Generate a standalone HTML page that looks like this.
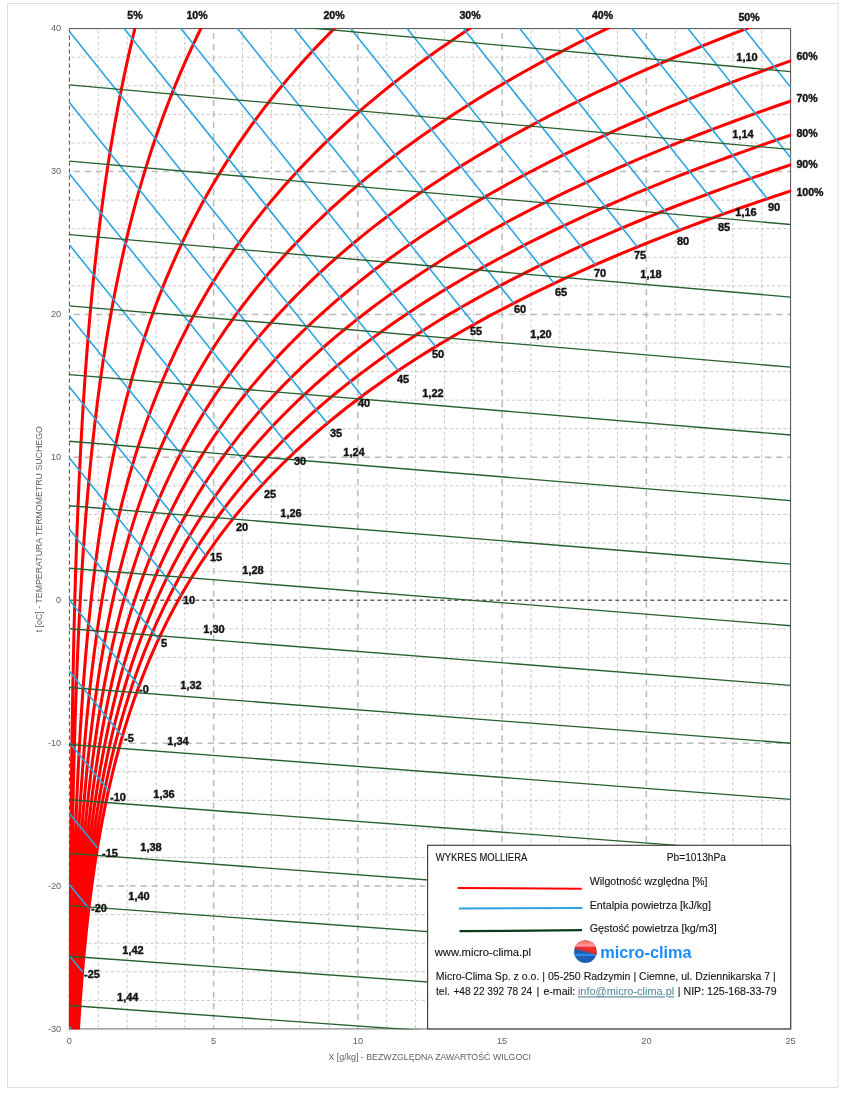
<!DOCTYPE html>
<html lang="pl"><head><meta charset="utf-8"><title>Wykres Molliera</title>
<style>html,body{margin:0;padding:0;background:#fff}body{width:850px;height:1100px;overflow:hidden}svg{display:block}</style>
</head><body>
<svg width="850" height="1100" viewBox="0 0 850 1100">
<rect x="0" y="0" width="850" height="1100" fill="#fff"/>
<rect x="7.5" y="3.5" width="830.5" height="1084" fill="none" stroke="#dde0e0" stroke-width="1"/>
<defs><clipPath id="cp"><rect x="68.80000000000001" y="28.0" width="722.4000000000001" height="1001.4"/></clipPath></defs>
<g fill="none">
<path d="M98.25 28.6V1029.0M127.10 28.6V1029.0M155.94 28.6V1029.0M184.79 28.6V1029.0M242.49 28.6V1029.0M271.34 28.6V1029.0M300.18 28.6V1029.0M329.03 28.6V1029.0M386.73 28.6V1029.0M415.58 28.6V1029.0M444.42 28.6V1029.0M473.27 28.6V1029.0M530.97 28.6V1029.0M559.82 28.6V1029.0M588.66 28.6V1029.0M617.51 28.6V1029.0M675.21 28.6V1029.0M704.06 28.6V1029.0M732.90 28.6V1029.0M761.75 28.6V1029.0M69.4 1000.42H790.6M69.4 971.83H790.6M69.4 943.25H790.6M69.4 914.67H790.6M69.4 857.50H790.6M69.4 828.92H790.6M69.4 800.34H790.6M69.4 771.75H790.6M69.4 714.59H790.6M69.4 686.01H790.6M69.4 657.42H790.6M69.4 628.84H790.6M69.4 571.67H790.6M69.4 543.09H790.6M69.4 514.51H790.6M69.4 485.93H790.6M69.4 428.76H790.6M69.4 400.18H790.6M69.4 371.59H790.6M69.4 343.01H790.6M69.4 285.85H790.6M69.4 257.26H790.6M69.4 228.68H790.6M69.4 200.10H790.6M69.4 142.93H790.6M69.4 114.35H790.6M69.4 85.77H790.6M69.4 57.18H790.6" stroke="#bebebe" stroke-width="0.85" stroke-dasharray="3.2 2.45" stroke-dashoffset="3.65"/>
<path d="M213.64 28.6V1029.0M357.88 28.6V1029.0M502.12 28.6V1029.0M646.36 28.6V1029.0" stroke="#bababa" stroke-width="1.5" stroke-dasharray="6.2 4.95" stroke-dashoffset="6.85"/>
<path d="M69.4 171.51H790.6M69.4 314.43H790.6M69.4 457.34H790.6M69.4 743.17H790.6M69.4 886.09H790.6" stroke="#bababa" stroke-width="1.5" stroke-dasharray="6.2 4.95" stroke-dashoffset="6.85"/>
<path d="M69.4 600.26H790.6" stroke="#646464" stroke-width="1.35" stroke-dasharray="3.9 3.1"/>
</g>
<path d="M69.4 28.6V1029.0" fill="none" stroke="#555" stroke-width="1.05" stroke-dasharray="4.2 2.8"/>
<path d="M69.4 28.6H790.6V1029.0" fill="none" stroke="#505050" stroke-width="1"/>
<path d="M69.4 1028.8H790.6" fill="none" stroke="#8a8a8a" stroke-width="1.3"/>
<g clip-path="url(#cp)" fill="none" stroke-linecap="butt">
<path d="M69.81 1043.29L69.83 1036.15L69.85 1029.00L69.88 1021.85L69.90 1014.71L69.92 1007.56L69.95 1000.42L69.97 993.27L70.00 986.13L70.03 978.98L70.06 971.83L70.09 964.69L70.12 957.54L70.15 950.40L70.19 943.25L70.22 936.11L70.26 928.96L70.30 921.81L70.34 914.67L70.38 907.52L70.42 900.38L70.47 893.23L70.52 886.09L70.56 878.94L70.62 871.79L70.67 864.65L70.72 857.50L70.78 850.36L70.84 843.21L70.90 836.07L70.96 828.92L71.03 821.77L71.10 814.63L71.17 807.48L71.24 800.34L71.32 793.19L71.40 786.05L71.48 778.90L71.57 771.75L71.66 764.61L71.75 757.46L71.84 750.32L71.94 743.17L72.04 736.03L72.15 728.88L72.26 721.73L72.37 714.59L72.49 707.44L72.61 700.30L72.74 693.15L72.87 686.01L73.00 678.86L73.14 671.71L73.28 664.57L73.43 657.42L73.59 650.28L73.74 643.13L73.91 635.99L74.08 628.84L74.25 621.69L74.43 614.55L74.62 607.40L74.81 600.26L75.01 593.11L75.22 585.97L75.43 578.82L75.65 571.67L75.88 564.53L76.11 557.38L76.35 550.24L76.60 543.09L76.86 535.95L77.12 528.80L77.40 521.65L77.68 514.51L77.97 507.36L78.27 500.22L78.58 493.07L78.89 485.93L79.22 478.78L79.56 471.63L79.91 464.49L80.27 457.34L80.63 450.20L81.01 443.05L81.40 435.91L81.81 428.76L82.22 421.61L82.65 414.47L83.09 407.32L83.54 400.18L84.01 393.03L84.48 385.89L84.98 378.74L85.48 371.59L86.00 364.45L86.54 357.30L87.09 350.16L87.66 343.01L88.24 335.87L88.84 328.72L89.45 321.57L90.08 314.43L90.73 307.28L91.40 300.14L92.08 292.99L92.79 285.85L93.51 278.70L94.26 271.55L95.02 264.41L95.80 257.26L96.61 250.12L97.43 242.97L98.28 235.83L99.15 228.68L100.04 221.53L100.96 214.39L101.90 207.24L102.86 200.10L103.85 192.95L104.87 185.81L105.91 178.66L106.97 171.51L108.07 164.37L109.19 157.22L110.34 150.08L111.52 142.93L112.73 135.79L113.97 128.64L115.24 121.49L116.55 114.35L117.88 107.20L119.25 100.06L120.65 92.91L122.09 85.77L123.56 78.62L125.06 71.47L126.60 64.33L128.18 57.18L129.80 50.04L131.46 42.89L133.15 35.75L134.89 28.60L136.67 21.45L138.48 14.31M70.22 1043.29L70.26 1036.15L70.31 1029.00L70.35 1021.85L70.40 1014.71L70.44 1007.56L70.49 1000.42L70.54 993.27L70.60 986.13L70.65 978.98L70.71 971.83L70.77 964.69L70.84 957.54L70.90 950.40L70.97 943.25L71.04 936.11L71.12 928.96L71.20 921.81L71.28 914.67L71.36 907.52L71.45 900.38L71.54 893.23L71.63 886.09L71.73 878.94L71.83 871.79L71.94 864.65L72.05 857.50L72.16 850.36L72.28 843.21L72.40 836.07L72.53 828.92L72.66 821.77L72.80 814.63L72.94 807.48L73.09 800.34L73.24 793.19L73.40 786.05L73.57 778.90L73.74 771.75L73.91 764.61L74.10 757.46L74.29 750.32L74.49 743.17L74.69 736.03L74.90 728.88L75.12 721.73L75.35 714.59L75.58 707.44L75.82 700.30L76.07 693.15L76.33 686.01L76.60 678.86L76.88 671.71L77.17 664.57L77.47 657.42L77.77 650.28L78.09 643.13L78.42 635.99L78.76 628.84L79.11 621.69L79.47 614.55L79.85 607.40L80.23 600.26L80.63 593.11L81.04 585.97L81.47 578.82L81.91 571.67L82.36 564.53L82.83 557.38L83.31 550.24L83.81 543.09L84.32 535.95L84.85 528.80L85.40 521.65L85.96 514.51L86.55 507.36L87.14 500.22L87.76 493.07L88.40 485.93L89.05 478.78L89.73 471.63L90.43 464.49L91.14 457.34L91.88 450.20L92.64 443.05L93.43 435.91L94.23 428.76L95.06 421.61L95.92 414.47L96.80 407.32L97.70 400.18L98.63 393.03L99.59 385.89L100.58 378.74L101.59 371.59L102.64 364.45L103.71 357.30L104.81 350.16L105.95 343.01L107.11 335.87L108.31 328.72L109.55 321.57L110.81 314.43L112.11 307.28L113.45 300.14L114.83 292.99L116.24 285.85L117.69 278.70L119.18 271.55L120.71 264.41L122.28 257.26L123.89 250.12L125.55 242.97L127.25 235.83L129.00 228.68L130.79 221.53L132.63 214.39L134.51 207.24L136.45 200.10L138.44 192.95L140.47 185.81L142.56 178.66L144.71 171.51L146.91 164.37L149.16 157.22L151.47 150.08L153.85 142.93L156.28 135.79L158.77 128.64L161.32 121.49L163.94 114.35L166.63 107.20L169.38 100.06L172.19 92.91L175.08 85.77L178.04 78.62L181.07 71.47L184.17 64.33L187.35 57.18L190.61 50.04L193.95 42.89L197.36 35.75L200.86 28.60L204.44 21.45L208.10 14.31M71.05 1043.29L71.13 1036.15L71.21 1029.00L71.30 1021.85L71.39 1014.71L71.49 1007.56L71.59 1000.42L71.69 993.27L71.80 986.13L71.91 978.98L72.03 971.83L72.15 964.69L72.27 957.54L72.41 950.40L72.54 943.25L72.69 936.11L72.84 928.96L72.99 921.81L73.15 914.67L73.32 907.52L73.49 900.38L73.68 893.23L73.86 886.09L74.06 878.94L74.26 871.79L74.47 864.65L74.69 857.50L74.92 850.36L75.16 843.21L75.40 836.07L75.66 828.92L75.92 821.77L76.20 814.63L76.49 807.48L76.78 800.34L77.09 793.19L77.41 786.05L77.74 778.90L78.08 771.75L78.43 764.61L78.80 757.46L79.18 750.32L79.57 743.17L79.98 736.03L80.41 728.88L80.84 721.73L81.30 714.59L81.77 707.44L82.25 700.30L82.75 693.15L83.27 686.01L83.81 678.86L84.37 671.71L84.94 664.57L85.54 657.42L86.15 650.28L86.79 643.13L87.45 635.99L88.13 628.84L88.83 621.69L89.56 614.55L90.30 607.40L91.08 600.26L91.88 593.11L92.70 585.97L93.56 578.82L94.44 571.67L95.34 564.53L96.28 557.38L97.25 550.24L98.25 543.09L99.27 535.95L100.34 528.80L101.43 521.65L102.56 514.51L103.72 507.36L104.92 500.22L106.16 493.07L107.44 485.93L108.75 478.78L110.11 471.63L111.50 464.49L112.94 457.34L114.42 450.20L115.95 443.05L117.52 435.91L119.13 428.76L120.80 421.61L122.51 414.47L124.28 407.32L126.09 400.18L127.96 393.03L129.89 385.89L131.87 378.74L133.90 371.59L136.00 364.45L138.15 357.30L140.37 350.16L142.65 343.01L144.99 335.87L147.40 328.72L149.87 321.57L152.42 314.43L155.03 307.28L157.72 300.14L160.48 292.99L163.32 285.85L166.24 278.70L169.24 271.55L172.31 264.41L175.47 257.26L178.72 250.12L182.05 242.97L185.47 235.83L188.99 228.68L192.60 221.53L196.30 214.39L200.10 207.24L204.00 200.10L208.00 192.95L212.11 185.81L216.33 178.66L220.65 171.51L225.09 164.37L229.64 157.22L234.30 150.08L239.09 142.93L244.00 135.79L249.03 128.64L254.19 121.49L259.48 114.35L264.91 107.20L270.47 100.06L276.17 92.91L282.01 85.77L288.00 78.62L294.14 71.47L300.43 64.33L306.87 57.18L313.47 50.04L320.23 42.89L327.16 35.75L334.25 28.60L341.52 21.45L348.97 14.31M71.87 1043.29L71.99 1036.15L72.12 1029.00L72.25 1021.85L72.39 1014.71L72.53 1007.56L72.68 1000.42L72.83 993.27L72.99 986.13L73.16 978.98L73.34 971.83L73.52 964.69L73.71 957.54L73.91 950.40L74.12 943.25L74.33 936.11L74.55 928.96L74.79 921.81L75.03 914.67L75.28 907.52L75.54 900.38L75.81 893.23L76.10 886.09L76.39 878.94L76.70 871.79L77.01 864.65L77.34 857.50L77.68 850.36L78.04 843.21L78.41 836.07L78.79 828.92L79.19 821.77L79.60 814.63L80.03 807.48L80.47 800.34L80.93 793.19L81.41 786.05L81.91 778.90L82.42 771.75L82.95 764.61L83.50 757.46L84.07 750.32L84.67 743.17L85.28 736.03L85.91 728.88L86.57 721.73L87.25 714.59L87.96 707.44L88.68 700.30L89.44 693.15L90.22 686.01L91.03 678.86L91.86 671.71L92.73 664.57L93.62 657.42L94.54 650.28L95.50 643.13L96.49 635.99L97.51 628.84L98.56 621.69L99.65 614.55L100.78 607.40L101.94 600.26L103.14 593.11L104.38 585.97L105.66 578.82L106.98 571.67L108.34 564.53L109.75 557.38L111.20 550.24L112.70 543.09L114.25 535.95L115.84 528.80L117.49 521.65L119.19 514.51L120.94 507.36L122.74 500.22L124.60 493.07L126.52 485.93L128.49 478.78L130.53 471.63L132.63 464.49L134.79 457.34L137.01 450.20L139.31 443.05L141.67 435.91L144.10 428.76L146.61 421.61L149.19 414.47L151.84 407.32L154.58 400.18L157.39 393.03L160.28 385.89L163.26 378.74L166.33 371.59L169.48 364.45L172.72 357.30L176.06 350.16L179.49 343.01L183.02 335.87L186.65 328.72L190.38 321.57L194.22 314.43L198.16 307.28L202.21 300.14L206.37 292.99L210.65 285.85L215.05 278.70L219.57 271.55L224.21 264.41L228.98 257.26L233.88 250.12L238.91 242.97L244.08 235.83L249.38 228.68L254.83 221.53L260.42 214.39L266.17 207.24L272.06 200.10L278.11 192.95L284.32 185.81L290.69 178.66L297.23 171.51L303.95 164.37L310.83 157.22L317.90 150.08L325.14 142.93L332.58 135.79L340.20 128.64L348.02 121.49L356.05 114.35L364.27 107.20L372.71 100.06L381.35 92.91L390.22 85.77L399.31 78.62L408.63 71.47L418.18 64.33L427.97 57.18L438.01 50.04L448.29 42.89L458.84 35.75L469.64 28.60L480.70 21.45L492.04 14.31M72.70 1043.29L72.86 1036.15L73.03 1029.00L73.20 1021.85L73.38 1014.71L73.57 1007.56L73.77 1000.42L73.98 993.27L74.19 986.13L74.42 978.98L74.65 971.83L74.90 964.69L75.15 957.54L75.41 950.40L75.69 943.25L75.97 936.11L76.27 928.96L76.58 921.81L76.91 914.67L77.24 907.52L77.59 900.38L77.95 893.23L78.33 886.09L78.72 878.94L79.13 871.79L79.55 864.65L79.99 857.50L80.45 850.36L80.92 843.21L81.41 836.07L81.92 828.92L82.45 821.77L83.00 814.63L83.58 807.48L84.17 800.34L84.78 793.19L85.42 786.05L86.08 778.90L86.76 771.75L87.47 764.61L88.21 757.46L88.97 750.32L89.76 743.17L90.58 736.03L91.42 728.88L92.30 721.73L93.21 714.59L94.15 707.44L95.12 700.30L96.13 693.15L97.17 686.01L98.25 678.86L99.36 671.71L100.52 664.57L101.71 657.42L102.94 650.28L104.22 643.13L105.53 635.99L106.90 628.84L108.30 621.69L109.76 614.55L111.26 607.40L112.81 600.26L114.41 593.11L116.07 585.97L117.78 578.82L119.54 571.67L121.36 564.53L123.24 557.38L125.18 550.24L127.18 543.09L129.25 535.95L131.38 528.80L133.58 521.65L135.84 514.51L138.18 507.36L140.59 500.22L143.07 493.07L145.64 485.93L148.28 478.78L151.00 471.63L153.80 464.49L156.69 457.34L159.67 450.20L162.73 443.05L165.89 435.91L169.14 428.76L172.49 421.61L175.94 414.47L179.49 407.32L183.15 400.18L186.91 393.03L190.78 385.89L194.77 378.74L198.87 371.59L203.09 364.45L207.43 357.30L211.90 350.16L216.49 343.01L221.22 335.87L226.07 328.72L231.07 321.57L236.21 314.43L241.49 307.28L246.92 300.14L252.50 292.99L258.23 285.85L264.13 278.70L270.19 271.55L276.41 264.41L282.81 257.26L289.38 250.12L296.13 242.97L303.06 235.83L310.18 228.68L317.50 221.53L325.01 214.39L332.72 207.24L340.64 200.10L348.76 192.95L357.11 185.81L365.68 178.66L374.47 171.51L383.50 164.37L392.76 157.22L402.27 150.08L412.02 142.93L422.03 135.79L432.30 128.64L442.83 121.49L453.64 114.35L464.73 107.20L476.10 100.06L487.76 92.91L499.73 85.77L511.99 78.62L524.58 71.47L537.48 64.33L550.71 57.18L564.27 50.04L578.17 42.89L592.43 35.75L607.05 28.60L622.03 21.45L637.38 14.31M73.52 1043.29L73.72 1036.15L73.93 1029.00L74.15 1021.85L74.38 1014.71L74.62 1007.56L74.86 1000.42L75.12 993.27L75.39 986.13L75.67 978.98L75.97 971.83L76.27 964.69L76.59 957.54L76.92 950.40L77.26 943.25L77.62 936.11L77.99 928.96L78.38 921.81L78.78 914.67L79.20 907.52L79.64 900.38L80.09 893.23L80.56 886.09L81.05 878.94L81.56 871.79L82.09 864.65L82.64 857.50L83.21 850.36L83.80 843.21L84.42 836.07L85.06 828.92L85.72 821.77L86.41 814.63L87.12 807.48L87.86 800.34L88.63 793.19L89.43 786.05L90.25 778.90L91.11 771.75L92.00 764.61L92.92 757.46L93.87 750.32L94.86 743.17L95.88 736.03L96.94 728.88L98.04 721.73L99.17 714.59L100.35 707.44L101.56 700.30L102.82 693.15L104.13 686.01L105.47 678.86L106.87 671.71L108.31 664.57L109.80 657.42L111.35 650.28L112.94 643.13L114.59 635.99L116.29 628.84L118.05 621.69L119.87 614.55L121.75 607.40L123.70 600.26L125.70 593.11L127.77 585.97L129.91 578.82L132.12 571.67L134.40 564.53L136.75 557.38L139.18 550.24L141.69 543.09L144.27 535.95L146.94 528.80L149.69 521.65L152.53 514.51L155.46 507.36L158.48 500.22L161.59 493.07L164.80 485.93L168.10 478.78L171.51 471.63L175.03 464.49L178.65 457.34L182.38 450.20L186.22 443.05L190.18 435.91L194.25 428.76L198.45 421.61L202.78 414.47L207.23 407.32L211.81 400.18L216.53 393.03L221.39 385.89L226.39 378.74L231.53 371.59L236.82 364.45L242.27 357.30L247.88 350.16L253.64 343.01L259.57 335.87L265.67 328.72L271.94 321.57L278.39 314.43L285.03 307.28L291.85 300.14L298.86 292.99L306.07 285.85L313.47 278.70L321.09 271.55L328.91 264.41L336.96 257.26L345.22 250.12L353.71 242.97L362.43 235.83L371.39 228.68L380.59 221.53L390.05 214.39L399.76 207.24L409.73 200.10L419.97 192.95L430.49 185.81L441.28 178.66L452.37 171.51L463.75 164.37L475.43 157.22L487.42 150.08L499.73 142.93L512.36 135.79L525.33 128.64L538.63 121.49L552.29 114.35L566.30 107.20L580.67 100.06L595.42 92.91L610.55 85.77L626.08 78.62L642.00 71.47L658.34 64.33L675.09 57.18L692.28 50.04L709.91 42.89L727.99 35.75L746.53 28.60L765.54 21.45L785.04 14.31M74.35 1043.29L74.59 1036.15L74.84 1029.00L75.10 1021.85L75.38 1014.71L75.66 1007.56L75.96 1000.42L76.27 993.27L76.59 986.13L76.93 978.98L77.28 971.83L77.64 964.69L78.03 957.54L78.42 950.40L78.83 943.25L79.26 936.11L79.71 928.96L80.18 921.81L80.66 914.67L81.16 907.52L81.69 900.38L82.23 893.23L82.80 886.09L83.39 878.94L84.00 871.79L84.63 864.65L85.29 857.50L85.98 850.36L86.69 843.21L87.43 836.07L88.19 828.92L88.99 821.77L89.82 814.63L90.67 807.48L91.56 800.34L92.48 793.19L93.44 786.05L94.43 778.90L95.46 771.75L96.52 764.61L97.63 757.46L98.77 750.32L99.96 743.17L101.19 736.03L102.46 728.88L103.77 721.73L105.14 714.59L106.55 707.44L108.01 700.30L109.52 693.15L111.09 686.01L112.71 678.86L114.38 671.71L116.11 664.57L117.91 657.42L119.76 650.28L121.67 643.13L123.65 635.99L125.70 628.84L127.82 621.69L130.00 614.55L132.26 607.40L134.59 600.26L137.00 593.11L139.49 585.97L142.06 578.82L144.72 571.67L147.46 564.53L150.28 557.38L153.20 550.24L156.21 543.09L159.32 535.95L162.53 528.80L165.84 521.65L169.25 514.51L172.77 507.36L176.40 500.22L180.14 493.07L184.00 485.93L187.98 478.78L192.07 471.63L196.30 464.49L200.65 457.34L205.14 450.20L209.76 443.05L214.53 435.91L219.43 428.76L224.49 421.61L229.69 414.47L235.05 407.32L240.56 400.18L246.25 393.03L252.09 385.89L258.11 378.74L264.31 371.59L270.69 364.45L277.25 357.30L284.00 350.16L290.94 343.01L298.09 335.87L305.44 328.72L313.00 321.57L320.78 314.43L328.78 307.28L337.00 300.14L345.46 292.99L354.15 285.85L363.09 278.70L372.28 271.55L381.72 264.41L391.43 257.26L401.40 250.12L411.65 242.97L422.19 235.83L433.01 228.68L444.13 221.53L455.56 214.39L467.30 207.24L479.35 200.10L491.73 192.95L504.45 185.81L517.52 178.66L530.93 171.51L544.70 164.37L558.85 157.22L573.37 150.08L588.28 142.93L603.59 135.79L619.31 128.64L635.44 121.49L652.00 114.35L669.00 107.20L686.44 100.06L704.35 92.91L722.72 85.77L741.58 78.62L760.93 71.47L780.79 64.33L801.17 57.18L822.08 50.04L843.54 42.89L865.55 35.75L888.13 28.60L911.31 21.45L935.08 14.31M75.17 1043.29L75.45 1036.15L75.75 1029.00L76.05 1021.85L76.37 1014.71L76.70 1007.56L77.05 1000.42L77.41 993.27L77.79 986.13L78.18 978.98L78.59 971.83L79.02 964.69L79.46 957.54L79.93 950.40L80.41 943.25L80.91 936.11L81.43 928.96L81.97 921.81L82.54 914.67L83.13 907.52L83.74 900.38L84.37 893.23L85.03 886.09L85.72 878.94L86.43 871.79L87.17 864.65L87.94 857.50L88.74 850.36L89.57 843.21L90.43 836.07L91.33 828.92L92.26 821.77L93.22 814.63L94.22 807.48L95.26 800.34L96.34 793.19L97.45 786.05L98.61 778.90L99.81 771.75L101.05 764.61L102.34 757.46L103.68 750.32L105.06 743.17L106.49 736.03L107.98 728.88L109.52 721.73L111.11 714.59L112.76 707.44L114.46 700.30L116.23 693.15L118.05 686.01L119.95 678.86L121.90 671.71L123.92 664.57L126.02 657.42L128.18 650.28L130.42 643.13L132.73 635.99L135.12 628.84L137.59 621.69L140.14 614.55L142.78 607.40L145.51 600.26L148.32 593.11L151.23 585.97L154.23 578.82L157.33 571.67L160.53 564.53L163.83 557.38L167.25 550.24L170.76 543.09L174.40 535.95L178.14 528.80L182.01 521.65L186.00 514.51L190.11 507.36L194.35 500.22L198.73 493.07L203.24 485.93L207.89 478.78L212.68 471.63L217.62 464.49L222.72 457.34L227.96 450.20L233.37 443.05L238.94 435.91L244.68 428.76L250.59 421.61L256.68 414.47L262.95 407.32L269.41 400.18L276.06 393.03L282.90 385.89L289.95 378.74L297.21 371.59L304.67 364.45L312.36 357.30L320.26 350.16L328.40 343.01L336.77 335.87L345.39 328.72L354.25 321.57L363.36 314.43L372.74 307.28L382.38 300.14L392.29 292.99L402.49 285.85L412.97 278.70L423.75 271.55L434.83 264.41L446.22 257.26L457.93 250.12L469.97 242.97L482.34 235.83L495.05 228.68L508.12 221.53L521.54 214.39L535.33 207.24L549.50 200.10L564.06 192.95L579.02 185.81L594.39 178.66L610.17 171.51L626.38 164.37L643.03 157.22L660.13 150.08L677.70 142.93L695.73 135.79L714.25 128.64L733.27 121.49L752.80 114.35L772.85 107.20L793.43 100.06L814.57 92.91L836.26 85.77L858.54 78.62L881.41 71.47L904.88 64.33L928.98 57.18L953.71 50.04L979.10 42.89L1005.16 35.75L1031.91 28.60L1059.36 21.45L1087.54 14.31M76.00 1043.29L76.32 1036.15L76.65 1029.00L77.00 1021.85L77.37 1014.71L77.75 1007.56L78.15 1000.42L78.56 993.27L78.99 986.13L79.44 978.98L79.91 971.83L80.39 964.69L80.90 957.54L81.43 950.40L81.98 943.25L82.55 936.11L83.15 928.96L83.77 921.81L84.42 914.67L85.09 907.52L85.79 900.38L86.51 893.23L87.27 886.09L88.05 878.94L88.87 871.79L89.71 864.65L90.59 857.50L91.51 850.36L92.46 843.21L93.44 836.07L94.47 828.92L95.53 821.77L96.63 814.63L97.77 807.48L98.96 800.34L100.19 793.19L101.47 786.05L102.79 778.90L104.16 771.75L105.58 764.61L107.06 757.46L108.58 750.32L110.17 743.17L111.81 736.03L113.50 728.88L115.26 721.73L117.08 714.59L118.97 707.44L120.92 700.30L122.94 693.15L125.03 686.01L127.19 678.86L129.43 671.71L131.74 664.57L134.13 657.42L136.61 650.28L139.17 643.13L141.81 635.99L144.55 628.84L147.37 621.69L150.29 614.55L153.31 607.40L156.43 600.26L159.65 593.11L162.98 585.97L166.41 578.82L169.96 571.67L173.63 564.53L177.41 557.38L181.31 550.24L185.34 543.09L189.50 535.95L193.79 528.80L198.21 521.65L202.78 514.51L207.49 507.36L212.35 500.22L217.36 493.07L222.52 485.93L227.85 478.78L233.34 471.63L239.00 464.49L244.83 457.34L250.85 450.20L257.04 443.05L263.43 435.91L270.00 428.76L276.78 421.61L283.76 414.47L290.95 407.32L298.35 400.18L305.97 393.03L313.82 385.89L321.90 378.74L330.22 371.59L338.79 364.45L347.60 357.30L356.68 350.16L366.01 343.01L375.62 335.87L385.51 328.72L395.68 321.57L406.14 314.43L416.91 307.28L427.98 300.14L439.37 292.99L451.09 285.85L463.13 278.70L475.52 271.55L488.26 264.41L501.35 257.26L514.82 250.12L528.66 242.97L542.89 235.83L557.51 228.68L572.55 221.53L588.00 214.39L603.88 207.24L620.20 200.10L636.97 192.95L654.20 185.81L671.90 178.66L690.09 171.51L708.79 164.37L727.99 157.22L747.71 150.08L767.98 142.93L788.79 135.79L810.18 128.64L832.14 121.49L854.70 114.35L877.87 107.20L901.66 100.06L926.10 92.91L951.20 85.77L976.97 78.62L1003.45 71.47L1030.63 64.33L1058.54 57.18L1087.21 50.04L1116.64 42.89L1146.87 35.75L1177.91 28.60L1209.78 21.45L1242.50 14.31M76.82 1043.29L77.18 1036.15L77.56 1029.00L77.95 1021.85L78.36 1014.71L78.79 1007.56L79.24 1000.42L79.70 993.27L80.19 986.13L80.69 978.98L81.22 971.83L81.77 964.69L82.34 957.54L82.94 950.40L83.56 943.25L84.20 936.11L84.87 928.96L85.57 921.81L86.30 914.67L87.05 907.52L87.84 900.38L88.65 893.23L89.50 886.09L90.39 878.94L91.30 871.79L92.26 864.65L93.25 857.50L94.28 850.36L95.34 843.21L96.45 836.07L97.60 828.92L98.80 821.77L100.04 814.63L101.33 807.48L102.66 800.34L104.05 793.19L105.48 786.05L106.97 778.90L108.52 771.75L110.12 764.61L111.78 757.46L113.49 750.32L115.28 743.17L117.12 736.03L119.03 728.88L121.01 721.73L123.06 714.59L125.18 707.44L127.38 700.30L129.65 693.15L132.00 686.01L134.44 678.86L136.96 671.71L139.56 664.57L142.26 657.42L145.04 650.28L147.93 643.13L150.91 635.99L153.98 628.84L157.17 621.69L160.46 614.55L163.86 607.40L167.37 600.26L171.00 593.11L174.74 585.97L178.61 578.82L182.61 571.67L186.74 564.53L191.00 557.38L195.40 550.24L199.94 543.09L204.62 535.95L209.46 528.80L214.45 521.65L219.59 514.51L224.90 507.36L230.38 500.22L236.02 493.07L241.85 485.93L247.85 478.78L254.04 471.63L260.43 464.49L267.00 457.34L273.79 450.20L280.77 443.05L287.97 435.91L295.39 428.76L303.04 421.61L310.91 414.47L319.02 407.32L327.38 400.18L335.98 393.03L344.84 385.89L353.97 378.74L363.36 371.59L373.03 364.45L382.99 357.30L393.23 350.16L403.78 343.01L414.64 335.87L425.81 328.72L437.30 321.57L449.13 314.43L461.30 307.28L473.82 300.14L486.69 292.99L499.94 285.85L513.57 278.70L527.58 271.55L541.99 264.41L556.81 257.26L572.05 250.12L587.72 242.97L603.84 235.83L620.40 228.68L637.43 221.53L654.94 214.39L672.93 207.24L691.43 200.10L710.45 192.95L729.99 185.81L750.07 178.66L770.71 171.51L791.93 164.37L813.73 157.22L836.13 150.08L859.14 142.93L882.79 135.79L907.10 128.64L932.06 121.49L957.72 114.35L984.08 107.20L1011.15 100.06L1038.97 92.91L1067.56 85.77L1096.92 78.62L1127.08 71.47L1158.07 64.33L1189.91 57.18L1222.61 50.04L1256.21 42.89L1290.72 35.75L1326.17 28.60L1362.60 21.45L1400.01 14.31M77.65 1043.29L78.05 1036.15L78.47 1029.00L78.91 1021.85L79.36 1014.71L79.84 1007.56L80.33 1000.42L80.85 993.27L81.39 986.13L81.95 978.98L82.54 971.83L83.14 964.69L83.78 957.54L84.44 950.40L85.13 943.25L85.85 936.11L86.59 928.96L87.37 921.81L88.18 914.67L89.01 907.52L89.89 900.38L90.80 893.23L91.74 886.09L92.72 878.94L93.74 871.79L94.80 864.65L95.90 857.50L97.04 850.36L98.23 843.21L99.46 836.07L100.74 828.92L102.07 821.77L103.45 814.63L104.88 807.48L106.37 800.34L107.90 793.19L109.50 786.05L111.16 778.90L112.87 771.75L114.65 764.61L116.50 757.46L118.41 750.32L120.39 743.17L122.44 736.03L124.56 728.88L126.76 721.73L129.04 714.59L131.40 707.44L133.84 700.30L136.37 693.15L138.99 686.01L141.69 678.86L144.50 671.71L147.39 664.57L150.39 657.42L153.49 650.28L156.69 643.13L160.01 635.99L163.43 628.84L166.97 621.69L170.63 614.55L174.41 607.40L178.32 600.26L182.36 593.11L186.53 585.97L190.83 578.82L195.28 571.67L199.87 564.53L204.61 557.38L209.51 550.24L214.56 543.09L219.77 535.95L225.15 528.80L230.71 521.65L236.43 514.51L242.34 507.36L248.44 500.22L254.73 493.07L261.21 485.93L267.90 478.78L274.79 471.63L281.90 464.49L289.23 457.34L296.78 450.20L304.57 443.05L312.59 435.91L320.86 428.76L329.37 421.61L338.15 414.47L347.19 407.32L356.50 400.18L366.09 393.03L375.97 385.89L386.14 378.74L396.62 371.59L407.40 364.45L418.51 357.30L429.94 350.16L441.71 343.01L453.82 335.87L466.28 328.72L479.11 321.57L492.32 314.43L505.90 307.28L519.88 300.14L534.26 292.99L549.06 285.85L564.28 278.70L579.94 271.55L596.04 264.41L612.61 257.26L629.65 250.12L647.17 242.97L665.19 235.83L683.72 228.68L702.77 221.53L722.37 214.39L742.51 207.24L763.22 200.10L784.51 192.95L806.40 185.81L828.90 178.66L852.04 171.51L875.82 164.37L900.26 157.22L925.38 150.08L951.20 142.93L977.75 135.79L1005.03 128.64L1033.06 121.49L1061.88 114.35L1091.50 107.20L1121.93 100.06L1153.21 92.91L1185.36 85.77L1218.40 78.62L1252.35 71.47L1287.24 64.33L1323.11 57.18L1359.96 50.04L1397.84 42.89L1436.76 35.75L1476.77 28.60L1517.88 21.45L1560.14 14.31" stroke="#ff0000" stroke-width="3.05" stroke-linejoin="round"/>
<path d="M69.40 1026.87L77.99 1037.21M69.40 955.77L82.55 971.66M69.40 884.66L88.92 908.34M69.40 813.56L97.48 847.73M69.40 742.46L108.55 790.25M69.40 671.36L122.38 736.22M69.40 600.26L139.07 685.77M69.40 529.16L158.63 638.94M69.40 458.05L180.94 595.60M69.40 386.95L205.85 555.56M69.40 315.85L233.15 518.58M69.40 244.75L262.62 484.40M69.40 173.65L294.06 452.75M69.40 102.55L327.26 423.37M69.40 31.44L362.02 396.04M69.40 -39.66L398.19 370.54M69.40 -110.76L435.62 346.68M69.40 -181.86L474.16 324.31M69.40 -252.96L513.71 303.27M69.40 -324.06L554.16 283.43M69.40 -395.17L595.43 264.68M69.40 -466.27L637.44 246.91M69.40 -537.37L680.12 230.05M69.40 -608.47L723.40 214.02M69.40 -679.57L767.24 198.73M69.40 -750.67L811.59 184.14M69.40 -821.78L856.40 170.19M69.40 -892.88L901.64 156.82M69.40 -963.98L947.28 144.00M69.40 -1035.08L993.28 131.69M69.40 -1106.18L1039.62 119.85" stroke="#2ba5e2" stroke-width="1.6"/>
<path d="M69.40 5.99L790.60 71.69M69.40 84.90L790.60 149.44M69.40 161.09L790.60 224.52M69.40 234.70L790.60 297.06M69.40 305.85L790.60 367.17M69.40 374.68L790.60 434.99M69.40 441.28L790.60 500.62M69.40 505.76L790.60 564.16M69.40 568.24L790.60 625.72M69.40 628.79L790.60 685.39M69.40 687.50L790.60 743.24M69.40 744.46L790.60 799.37M69.40 799.75L790.60 853.85M69.40 853.43L790.60 906.75M69.40 905.58L790.60 958.14M69.40 956.26L790.60 1008.08M69.40 1005.54L790.60 1056.64M69.40 1053.46L790.60 1103.86" stroke="#27602f" stroke-width="1.35"/>
</g>
<text x="135.0" y="18.5" font-size="10.6" text-anchor="middle" font-family="Liberation Sans, Arial, sans-serif" font-weight="bold" fill="#141414" stroke="#141414" stroke-width="0.4">5%</text>
<text x="197.0" y="18.5" font-size="10.6" text-anchor="middle" font-family="Liberation Sans, Arial, sans-serif" font-weight="bold" fill="#141414" stroke="#141414" stroke-width="0.4">10%</text>
<text x="334.0" y="18.5" font-size="10.6" text-anchor="middle" font-family="Liberation Sans, Arial, sans-serif" font-weight="bold" fill="#141414" stroke="#141414" stroke-width="0.4">20%</text>
<text x="470.0" y="18.6" font-size="10.6" text-anchor="middle" font-family="Liberation Sans, Arial, sans-serif" font-weight="bold" fill="#141414" stroke="#141414" stroke-width="0.4">30%</text>
<text x="602.5" y="18.6" font-size="10.6" text-anchor="middle" font-family="Liberation Sans, Arial, sans-serif" font-weight="bold" fill="#141414" stroke="#141414" stroke-width="0.4">40%</text>
<text x="749.0" y="20.8" font-size="10.6" text-anchor="middle" font-family="Liberation Sans, Arial, sans-serif" font-weight="bold" fill="#141414" stroke="#141414" stroke-width="0.4">50%</text>
<text x="796.4" y="60.1" font-size="10.6" text-anchor="start" font-family="Liberation Sans, Arial, sans-serif" font-weight="bold" fill="#141414" stroke="#141414" stroke-width="0.4">60%</text>
<text x="796.4" y="102.1" font-size="10.6" text-anchor="start" font-family="Liberation Sans, Arial, sans-serif" font-weight="bold" fill="#141414" stroke="#141414" stroke-width="0.4">70%</text>
<text x="796.4" y="136.9" font-size="10.6" text-anchor="start" font-family="Liberation Sans, Arial, sans-serif" font-weight="bold" fill="#141414" stroke="#141414" stroke-width="0.4">80%</text>
<text x="796.4" y="168.2" font-size="10.6" text-anchor="start" font-family="Liberation Sans, Arial, sans-serif" font-weight="bold" fill="#141414" stroke="#141414" stroke-width="0.4">90%</text>
<text x="796.4" y="196.2" font-size="10.6" text-anchor="start" font-family="Liberation Sans, Arial, sans-serif" font-weight="bold" fill="#141414" stroke="#141414" stroke-width="0.4">100%</text>
<text x="774.0" y="210.6" font-size="11.0" text-anchor="middle" font-family="Liberation Sans, Arial, sans-serif" font-weight="bold" fill="#141414" stroke="#141414" stroke-width="0.4">90</text>
<text x="724.0" y="230.6" font-size="11.0" text-anchor="middle" font-family="Liberation Sans, Arial, sans-serif" font-weight="bold" fill="#141414" stroke="#141414" stroke-width="0.4">85</text>
<text x="683.0" y="244.6" font-size="11.0" text-anchor="middle" font-family="Liberation Sans, Arial, sans-serif" font-weight="bold" fill="#141414" stroke="#141414" stroke-width="0.4">80</text>
<text x="640.0" y="258.6" font-size="11.0" text-anchor="middle" font-family="Liberation Sans, Arial, sans-serif" font-weight="bold" fill="#141414" stroke="#141414" stroke-width="0.4">75</text>
<text x="600.0" y="276.6" font-size="11.0" text-anchor="middle" font-family="Liberation Sans, Arial, sans-serif" font-weight="bold" fill="#141414" stroke="#141414" stroke-width="0.4">70</text>
<text x="561.0" y="295.6" font-size="11.0" text-anchor="middle" font-family="Liberation Sans, Arial, sans-serif" font-weight="bold" fill="#141414" stroke="#141414" stroke-width="0.4">65</text>
<text x="520.0" y="312.6" font-size="11.0" text-anchor="middle" font-family="Liberation Sans, Arial, sans-serif" font-weight="bold" fill="#141414" stroke="#141414" stroke-width="0.4">60</text>
<text x="476.0" y="334.6" font-size="11.0" text-anchor="middle" font-family="Liberation Sans, Arial, sans-serif" font-weight="bold" fill="#141414" stroke="#141414" stroke-width="0.4">55</text>
<text x="438.0" y="357.6" font-size="11.0" text-anchor="middle" font-family="Liberation Sans, Arial, sans-serif" font-weight="bold" fill="#141414" stroke="#141414" stroke-width="0.4">50</text>
<text x="403.0" y="382.6" font-size="11.0" text-anchor="middle" font-family="Liberation Sans, Arial, sans-serif" font-weight="bold" fill="#141414" stroke="#141414" stroke-width="0.4">45</text>
<text x="364.0" y="406.6" font-size="11.0" text-anchor="middle" font-family="Liberation Sans, Arial, sans-serif" font-weight="bold" fill="#141414" stroke="#141414" stroke-width="0.4">40</text>
<text x="336.0" y="436.6" font-size="11.0" text-anchor="middle" font-family="Liberation Sans, Arial, sans-serif" font-weight="bold" fill="#141414" stroke="#141414" stroke-width="0.4">35</text>
<text x="300.0" y="464.6" font-size="11.0" text-anchor="middle" font-family="Liberation Sans, Arial, sans-serif" font-weight="bold" fill="#141414" stroke="#141414" stroke-width="0.4">30</text>
<text x="270.0" y="497.6" font-size="11.0" text-anchor="middle" font-family="Liberation Sans, Arial, sans-serif" font-weight="bold" fill="#141414" stroke="#141414" stroke-width="0.4">25</text>
<text x="242.0" y="530.6" font-size="11.0" text-anchor="middle" font-family="Liberation Sans, Arial, sans-serif" font-weight="bold" fill="#141414" stroke="#141414" stroke-width="0.4">20</text>
<text x="216.0" y="560.6" font-size="11.0" text-anchor="middle" font-family="Liberation Sans, Arial, sans-serif" font-weight="bold" fill="#141414" stroke="#141414" stroke-width="0.4">15</text>
<text x="189.0" y="603.6" font-size="11.0" text-anchor="middle" font-family="Liberation Sans, Arial, sans-serif" font-weight="bold" fill="#141414" stroke="#141414" stroke-width="0.4">10</text>
<text x="164.0" y="646.6" font-size="11.0" text-anchor="middle" font-family="Liberation Sans, Arial, sans-serif" font-weight="bold" fill="#141414" stroke="#141414" stroke-width="0.4">5</text>
<text x="144.0" y="692.6" font-size="11.0" text-anchor="middle" font-family="Liberation Sans, Arial, sans-serif" font-weight="bold" fill="#141414" stroke="#141414" stroke-width="0.4">-0</text>
<text x="129.0" y="741.6" font-size="11.0" text-anchor="middle" font-family="Liberation Sans, Arial, sans-serif" font-weight="bold" fill="#141414" stroke="#141414" stroke-width="0.4">-5</text>
<text x="118.0" y="800.6" font-size="11.0" text-anchor="middle" font-family="Liberation Sans, Arial, sans-serif" font-weight="bold" fill="#141414" stroke="#141414" stroke-width="0.4">-10</text>
<text x="110.0" y="856.6" font-size="11.0" text-anchor="middle" font-family="Liberation Sans, Arial, sans-serif" font-weight="bold" fill="#141414" stroke="#141414" stroke-width="0.4">-15</text>
<text x="99.0" y="911.6" font-size="11.0" text-anchor="middle" font-family="Liberation Sans, Arial, sans-serif" font-weight="bold" fill="#141414" stroke="#141414" stroke-width="0.4">-20</text>
<text x="92.0" y="977.6" font-size="11.0" text-anchor="middle" font-family="Liberation Sans, Arial, sans-serif" font-weight="bold" fill="#141414" stroke="#141414" stroke-width="0.4">-25</text>
<text x="747.0" y="60.6" font-size="11.0" text-anchor="middle" font-family="Liberation Sans, Arial, sans-serif" font-weight="bold" fill="#141414" stroke="#141414" stroke-width="0.4">1,10</text>
<text x="743.0" y="137.6" font-size="11.0" text-anchor="middle" font-family="Liberation Sans, Arial, sans-serif" font-weight="bold" fill="#141414" stroke="#141414" stroke-width="0.4">1,14</text>
<text x="746.0" y="215.6" font-size="11.0" text-anchor="middle" font-family="Liberation Sans, Arial, sans-serif" font-weight="bold" fill="#141414" stroke="#141414" stroke-width="0.4">1,16</text>
<text x="651.0" y="277.6" font-size="11.0" text-anchor="middle" font-family="Liberation Sans, Arial, sans-serif" font-weight="bold" fill="#141414" stroke="#141414" stroke-width="0.4">1,18</text>
<text x="541.0" y="337.6" font-size="11.0" text-anchor="middle" font-family="Liberation Sans, Arial, sans-serif" font-weight="bold" fill="#141414" stroke="#141414" stroke-width="0.4">1,20</text>
<text x="433.0" y="396.6" font-size="11.0" text-anchor="middle" font-family="Liberation Sans, Arial, sans-serif" font-weight="bold" fill="#141414" stroke="#141414" stroke-width="0.4">1,22</text>
<text x="354.0" y="455.6" font-size="11.0" text-anchor="middle" font-family="Liberation Sans, Arial, sans-serif" font-weight="bold" fill="#141414" stroke="#141414" stroke-width="0.4">1,24</text>
<text x="291.0" y="516.6" font-size="11.0" text-anchor="middle" font-family="Liberation Sans, Arial, sans-serif" font-weight="bold" fill="#141414" stroke="#141414" stroke-width="0.4">1,26</text>
<text x="253.0" y="573.6" font-size="11.0" text-anchor="middle" font-family="Liberation Sans, Arial, sans-serif" font-weight="bold" fill="#141414" stroke="#141414" stroke-width="0.4">1,28</text>
<text x="214.0" y="632.6" font-size="11.0" text-anchor="middle" font-family="Liberation Sans, Arial, sans-serif" font-weight="bold" fill="#141414" stroke="#141414" stroke-width="0.4">1,30</text>
<text x="191.0" y="688.6" font-size="11.0" text-anchor="middle" font-family="Liberation Sans, Arial, sans-serif" font-weight="bold" fill="#141414" stroke="#141414" stroke-width="0.4">1,32</text>
<text x="178.0" y="744.6" font-size="11.0" text-anchor="middle" font-family="Liberation Sans, Arial, sans-serif" font-weight="bold" fill="#141414" stroke="#141414" stroke-width="0.4">1,34</text>
<text x="164.0" y="797.6" font-size="11.0" text-anchor="middle" font-family="Liberation Sans, Arial, sans-serif" font-weight="bold" fill="#141414" stroke="#141414" stroke-width="0.4">1,36</text>
<text x="151.0" y="850.6" font-size="11.0" text-anchor="middle" font-family="Liberation Sans, Arial, sans-serif" font-weight="bold" fill="#141414" stroke="#141414" stroke-width="0.4">1,38</text>
<text x="139.0" y="899.6" font-size="11.0" text-anchor="middle" font-family="Liberation Sans, Arial, sans-serif" font-weight="bold" fill="#141414" stroke="#141414" stroke-width="0.4">1,40</text>
<text x="133.0" y="953.6" font-size="11.0" text-anchor="middle" font-family="Liberation Sans, Arial, sans-serif" font-weight="bold" fill="#141414" stroke="#141414" stroke-width="0.4">1,42</text>
<text x="127.8" y="1000.6" font-size="11.0" text-anchor="middle" font-family="Liberation Sans, Arial, sans-serif" font-weight="bold" fill="#141414" stroke="#141414" stroke-width="0.4">1,44</text>
<text x="61.2" y="1031.8" font-size="9.2" text-anchor="end" font-family="Liberation Sans, Arial, sans-serif" fill="#616161">-30</text>
<text x="61.2" y="888.9" font-size="9.2" text-anchor="end" font-family="Liberation Sans, Arial, sans-serif" fill="#616161">-20</text>
<text x="61.2" y="746.0" font-size="9.2" text-anchor="end" font-family="Liberation Sans, Arial, sans-serif" fill="#616161">-10</text>
<text x="61.2" y="603.1" font-size="9.2" text-anchor="end" font-family="Liberation Sans, Arial, sans-serif" fill="#616161">0</text>
<text x="61.2" y="460.1" font-size="9.2" text-anchor="end" font-family="Liberation Sans, Arial, sans-serif" fill="#616161">10</text>
<text x="61.2" y="317.2" font-size="9.2" text-anchor="end" font-family="Liberation Sans, Arial, sans-serif" fill="#616161">20</text>
<text x="61.2" y="174.3" font-size="9.2" text-anchor="end" font-family="Liberation Sans, Arial, sans-serif" fill="#616161">30</text>
<text x="61.2" y="31.4" font-size="9.2" text-anchor="end" font-family="Liberation Sans, Arial, sans-serif" fill="#616161">40</text>
<text x="69.4" y="1044.3" font-size="9.2" text-anchor="middle" font-family="Liberation Sans, Arial, sans-serif" fill="#616161">0</text>
<text x="213.6" y="1044.3" font-size="9.2" text-anchor="middle" font-family="Liberation Sans, Arial, sans-serif" fill="#616161">5</text>
<text x="357.9" y="1044.3" font-size="9.2" text-anchor="middle" font-family="Liberation Sans, Arial, sans-serif" fill="#616161">10</text>
<text x="502.1" y="1044.3" font-size="9.2" text-anchor="middle" font-family="Liberation Sans, Arial, sans-serif" fill="#616161">15</text>
<text x="646.4" y="1044.3" font-size="9.2" text-anchor="middle" font-family="Liberation Sans, Arial, sans-serif" fill="#616161">20</text>
<text x="790.6" y="1044.3" font-size="9.2" text-anchor="middle" font-family="Liberation Sans, Arial, sans-serif" fill="#616161">25</text>
<text x="429.8" y="1060.1" font-size="9.3" text-anchor="middle" font-family="Liberation Sans, Arial, sans-serif" fill="#616161" textLength="202.5" lengthAdjust="spacingAndGlyphs">X [g/kg] - BEZWZGLĘDNA ZAWARTOŚĆ WILGOCI</text>
<text transform="translate(41.6 529.2) rotate(-90)" font-size="9.3" text-anchor="middle" font-family="Liberation Sans, Arial, sans-serif" fill="#616161" textLength="206" lengthAdjust="spacingAndGlyphs">t [oC] - TEMPERATURA TERMOMETRU SUCHEGO</text>
<rect x="427.6" y="845.3" width="363.1" height="183.6" fill="#fff" stroke="#454545" stroke-width="1.2"/>
<text x="435.8" y="861.0" font-size="10" text-anchor="start" font-family="Liberation Sans, Arial, sans-serif" fill="#141414" stroke="#141414" stroke-width="0.12" textLength="91.5" lengthAdjust="spacingAndGlyphs">WYKRES MOLLIERA</text>
<text x="666.8" y="860.8" font-size="10.5" text-anchor="start" font-family="Liberation Sans, Arial, sans-serif" fill="#141414" stroke="#141414" stroke-width="0.12" textLength="59.2" lengthAdjust="spacingAndGlyphs">Pb=1013hPa</text>
<text x="589.7" y="884.9" font-size="10.5" text-anchor="start" font-family="Liberation Sans, Arial, sans-serif" fill="#141414" stroke="#141414" stroke-width="0.12" textLength="117.8" lengthAdjust="spacingAndGlyphs">Wilgotność względna [%]</text>
<text x="589.7" y="908.9" font-size="10.5" text-anchor="start" font-family="Liberation Sans, Arial, sans-serif" fill="#141414" stroke="#141414" stroke-width="0.12" textLength="121.3" lengthAdjust="spacingAndGlyphs">Entalpia powietrza [kJ/kg]</text>
<text x="589.7" y="932.4" font-size="10.5" text-anchor="start" font-family="Liberation Sans, Arial, sans-serif" fill="#141414" stroke="#141414" stroke-width="0.12" textLength="127.1" lengthAdjust="spacingAndGlyphs">Gęstość powietrza [kg/m3]</text>
<path d="M457.5 888L581.7 888.8" stroke="#ff0000" stroke-width="2" fill="none"/>
<path d="M458.8 908.4L582.3 907.9" stroke="#2ba3df" stroke-width="2" fill="none"/>
<path d="M459.5 931.2L582 930.2" stroke="#0c3b1a" stroke-width="2.2" fill="none"/>
<text x="434.7" y="955.8" font-size="10.5" text-anchor="start" font-family="Liberation Sans, Arial, sans-serif" fill="#141414" stroke="#141414" stroke-width="0.12" textLength="96.2" lengthAdjust="spacingAndGlyphs">www.micro-clima.pl</text>
<g><defs><clipPath id="lc"><circle cx="585.4" cy="951.7" r="11.3"/></clipPath><linearGradient id="lg" x1="0" y1="0" x2="0" y2="1"><stop offset="0" stop-color="#ff4848"/><stop offset="1" stop-color="#ffa3a3"/></linearGradient></defs>
<g clip-path="url(#lc)">
<rect x="572" y="938" width="28" height="28" fill="#1f5fb2"/>
<rect x="572" y="953.8" width="28" height="2.2" fill="#2e8cf0"/>
<path d="M572 938H600V955.5L572 948Z" fill="#ff2a2a"/>
<path d="M572 947H581.2L600 954.2V955.5L572 948Z" fill="#c4343e" opacity=".85"/>
<rect x="572" y="938" width="28" height="8.6" fill="url(#lg)"/>
</g></g>
<text x="600.2" y="958" font-size="16.5" font-family="Liberation Sans, Arial, sans-serif" font-weight="bold" fill="#1a8cff" textLength="91.5" lengthAdjust="spacingAndGlyphs">micro-clima</text>
<text x="435.8" y="980.4" font-size="10.8" text-anchor="start" font-family="Liberation Sans, Arial, sans-serif" fill="#141414" stroke="#141414" stroke-width="0.12" textLength="340" lengthAdjust="spacingAndGlyphs">Micro-Clima Sp. z o.o. | 05-250 Radzymin | Ciemne, ul. Dziennikarska 7 |</text>
<text x="436.0" y="995.4" font-size="10.8" text-anchor="start" font-family="Liberation Sans, Arial, sans-serif" fill="#141414" stroke="#141414" stroke-width="0.12" textLength="13.8" lengthAdjust="spacingAndGlyphs">tel.</text>
<text x="453.4" y="995.4" font-size="10.8" text-anchor="start" font-family="Liberation Sans, Arial, sans-serif" fill="#141414" stroke="#141414" stroke-width="0.12" textLength="78.8" lengthAdjust="spacingAndGlyphs">+48 22 392 78 24</text>
<text x="536.4" y="995.4" font-size="10.8" text-anchor="start" font-family="Liberation Sans, Arial, sans-serif" fill="#141414" stroke="#141414" stroke-width="0.12">|</text>
<text x="543.4" y="995.4" font-size="10.8" text-anchor="start" font-family="Liberation Sans, Arial, sans-serif" fill="#141414" stroke="#141414" stroke-width="0.12" textLength="31.8" lengthAdjust="spacingAndGlyphs">e-mail:</text>
<text x="577.9" y="995.4" font-size="10.8" font-family="Liberation Sans, Arial, sans-serif" fill="#4d8496" text-decoration="underline" textLength="96.3" lengthAdjust="spacingAndGlyphs">info@micro-clima.pl</text>
<text x="677.8" y="995.4" font-size="10.8" text-anchor="start" font-family="Liberation Sans, Arial, sans-serif" fill="#141414" stroke="#141414" stroke-width="0.12" textLength="98.8" lengthAdjust="spacingAndGlyphs">| NIP: 125-168-33-79</text>
</svg>
</body></html>
